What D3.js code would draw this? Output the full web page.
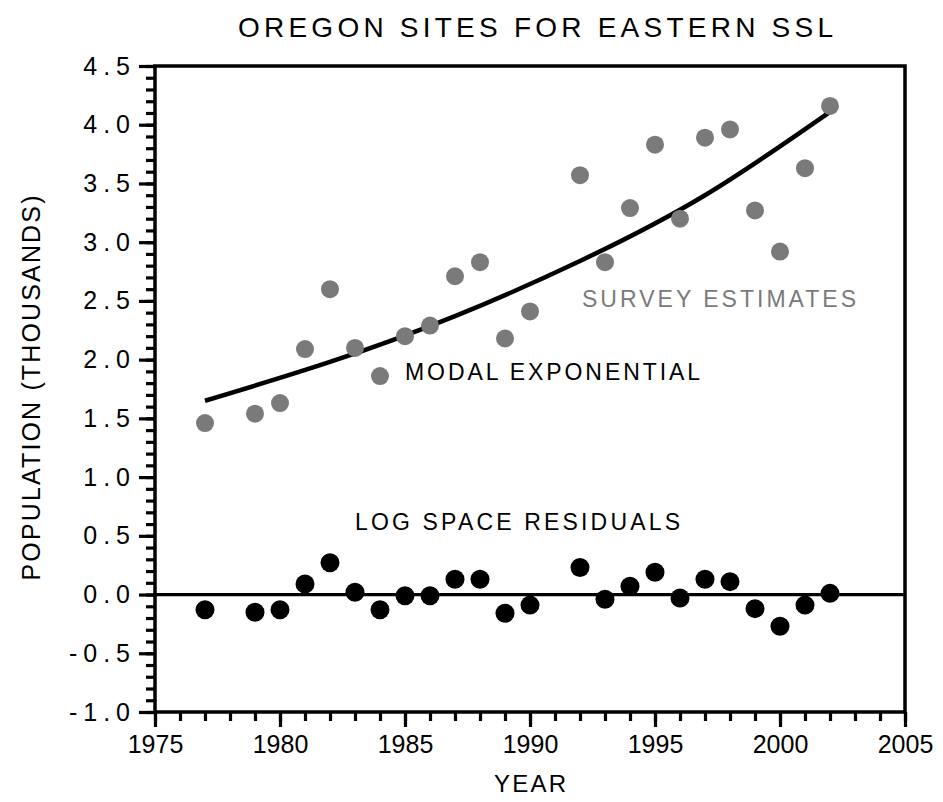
<!DOCTYPE html>
<html>
<head>
<meta charset="utf-8">
<script src="https://cdn.jsdelivr.net/npm/d3@7"></script>
<style>
  html, body { margin: 0; padding: 0; background: #fff; }
  svg { display: block; font-family: "Liberation Sans", Arial, Helvetica, sans-serif; }
</style>
</head>
<body>
<div id="chart"></div>
<script>
// survey estimates (thousands)
const surveyYears = [1977, 1979, 1980, 1981, 1982, 1983, 1984, 1985, 1986, 1987, 1988, 1989, 1990,
                     1992, 1993, 1994, 1995, 1996, 1997, 1998, 1999, 2000, 2001, 2002];
const surveyValues = [1.46, 1.54, 1.63, 2.09, 2.60, 2.10, 1.86, 2.20, 2.29, 2.71, 2.83, 2.18, 2.41,
                      3.57, 2.83, 3.29, 3.83, 3.20, 3.89, 3.96, 3.27, 2.92, 3.63, 4.16];

// log space residuals
const residualValues = [-0.13, -0.15, -0.13, 0.09, 0.27, 0.02, -0.13, -0.01, -0.01, 0.13, 0.13, -0.16, -0.09,
                        0.23, -0.04, 0.07, 0.19, -0.03, 0.13, 0.11, -0.12, -0.27, -0.09, 0.01];

// modal exponential curve
const modelYears = [1977, 1982, 1987, 1992, 1997, 2002];
const modelValues = [1.65, 1.98, 2.37, 2.84, 3.40, 4.11];

const yTickValues = [-1.0, -0.5, 0.0, 0.5, 1.0, 1.5, 2.0, 2.5, 3.0, 3.5, 4.0, 4.5];
const xTickValues = [1975, 1980, 1985, 1990, 1995, 2000, 2005];

const width = 943, height = 802;
const margin = { top: 66, right: 38, bottom: 90, left: 155 };

const svg = d3.select('#chart').append('svg')
  .attr('width', width)
  .attr('height', height);

const x = d3.scaleLinear().domain([1975, 2005]).range([margin.left, width - margin.right]);
const y = d3.scaleLinear().domain([-1.0, 4.5]).range([height - margin.bottom, margin.top]);

// y axis: major every 0.5, minor every 0.1
const yMinor = d3.range(-10, 46).map(d => d / 10);
svg.append('g')
  .attr('transform', `translate(${x(1975)},0)`)
  .call(d3.axisLeft(y).tickValues(yMinor).tickSize(9).tickFormat(''))
  .call(g => g.select('.domain').remove())
  .call(g => g.selectAll('line').attr('stroke', '#000').attr('stroke-width', 3.2));

svg.append('g')
  .attr('class', 'y-axis')
  .attr('transform', `translate(${x(1975)},0)`)
  .call(d3.axisLeft(y).tickValues(yTickValues).tickSize(16).tickPadding(9)
    .tickFormat(d => d3.format('.1f')(d).replace('\u2212', '-')))
  .call(g => g.select('.domain').remove())
  .call(g => g.selectAll('line').attr('stroke', '#000').attr('stroke-width', 3.2))
  .call(g => g.selectAll('text')
    .attr('font-size', 25)
    .attr('fill', '#000')
    .attr('letter-spacing', 6)
    .attr('dx', 6)
    .attr('font-family', '"Liberation Sans", Arial, sans-serif'));

// x axis: minor every year, major every 5
svg.append('g')
  .attr('transform', `translate(0,${y(-1.0)})`)
  .call(d3.axisBottom(x).tickValues(d3.range(1975, 2006)).tickSize(9).tickFormat(''))
  .call(g => g.select('.domain').remove())
  .call(g => g.selectAll('line').attr('stroke', '#000').attr('stroke-width', 3.2));

svg.append('g')
  .attr('class', 'x-axis')
  .attr('transform', `translate(0,${y(-1.0)})`)
  .call(d3.axisBottom(x).tickValues(xTickValues).tickSize(15).tickPadding(8)
    .tickFormat(d3.format('d')))
  .call(g => g.select('.domain').remove())
  .call(g => g.selectAll('line').attr('stroke', '#000').attr('stroke-width', 3.2))
  .call(g => g.selectAll('text')
    .attr('font-size', 25)
    .attr('fill', '#000')
    .attr('font-family', '"Liberation Sans", Arial, sans-serif'));

// frame
svg.append('rect')
  .attr('x', x(1975))
  .attr('y', y(4.5))
  .attr('width', x(2005) - x(1975))
  .attr('height', y(-1.0) - y(4.5))
  .attr('fill', 'none')
  .attr('stroke', '#000')
  .attr('stroke-width', 3.5);

// zero line
svg.append('line')
  .attr('x1', x(1975)).attr('x2', x(2005))
  .attr('y1', y(0)).attr('y2', y(0))
  .attr('stroke', '#000')
  .attr('stroke-width', 3.2);

// model curve
const modelPts = modelYears.map((yr, i) => [yr, modelValues[i]]);
svg.append('path')
  .datum(modelPts)
  .attr('fill', 'none')
  .attr('stroke', '#000')
  .attr('stroke-width', 4.5)
  .attr('d', d3.line().x(d => x(d[0])).y(d => y(d[1])).curve(d3.curveNatural));

// survey dots
svg.append('g').selectAll('circle')
  .data(surveyYears.map((yr, i) => ({ yr, v: surveyValues[i] })))
  .join('circle')
  .attr('cx', d => x(d.yr))
  .attr('cy', d => y(d.v))
  .attr('r', 9)
  .attr('fill', '#7a7a7a');

// residual dots
svg.append('g').selectAll('circle')
  .data(surveyYears.map((yr, i) => ({ yr, v: residualValues[i] })))
  .join('circle')
  .attr('cx', d => x(d.yr))
  .attr('cy', d => y(d.v))
  .attr('r', 9.5)
  .attr('fill', '#000');

// labels
const addText = (txt, cx, cy, size, len, fill, anchor) =>
  svg.append('text')
    .attr('x', cx).attr('y', cy)
    .attr('font-size', size)
    .attr('fill', fill || '#000')
    .attr('text-anchor', anchor || 'start')
    .attr('textLength', len)
    .attr('lengthAdjust', 'spacing')
    .text(txt);

addText('OREGON SITES FOR EASTERN SSL', 238, 37, 28, 595);
addText('SURVEY ESTIMATES', 582, 307, 23, 274, '#7a7a7a');
addText('MODAL EXPONENTIAL', 405, 380, 23, 295);
addText('LOG SPACE RESIDUALS', 355, 530, 23, 325);
addText('YEAR', 530, 792, 24, 72, '#000', 'middle');

svg.append('text')
  .attr('transform', 'translate(40,388) rotate(-90)')
  .attr('text-anchor', 'middle')
  .attr('font-size', 25)
  .attr('textLength', 385)
  .attr('lengthAdjust', 'spacing')
  .text('POPULATION (THOUSANDS)');
</script>
</body>
</html>
